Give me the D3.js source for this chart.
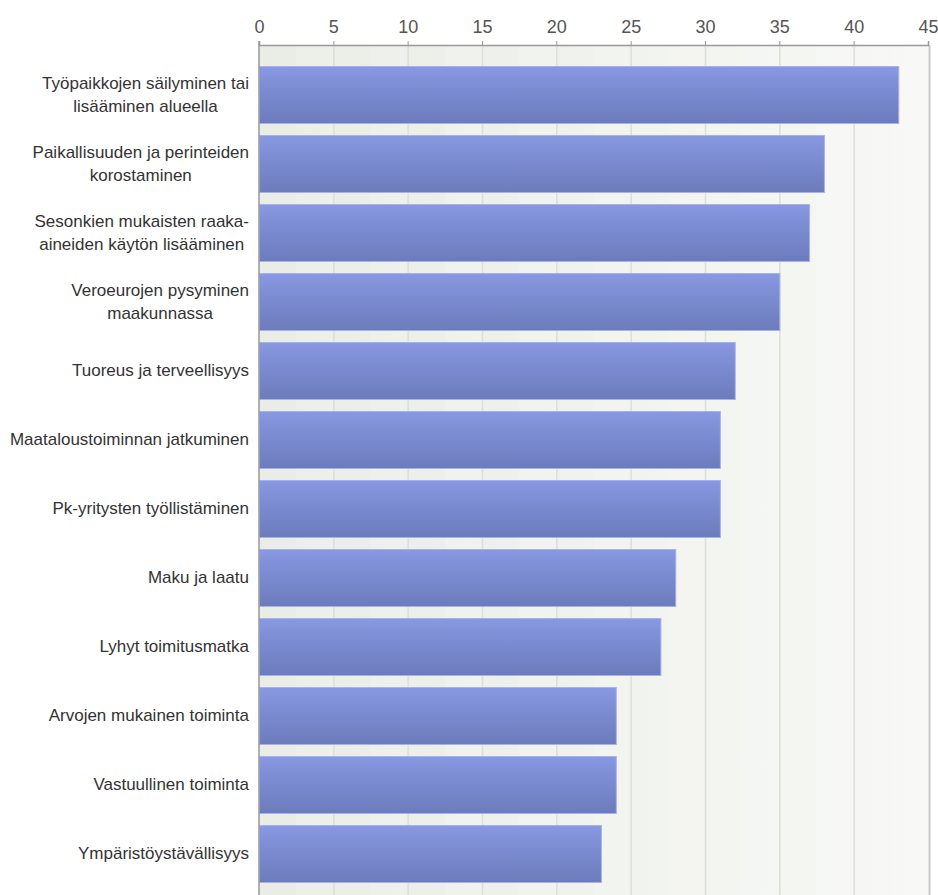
<!DOCTYPE html>
<html>
<head>
<meta charset="utf-8">
<script src="https://cdn.jsdelivr.net/npm/d3@7"></script>
<style>
  body { margin: 0; background: #fff; }
  svg { display: block; font-family: "Liberation Sans", Arial, sans-serif; }
</style>
</head>
<body>
<div id="chart"></div>
<script>
// Categories (each entry is the lines of the label) and values
const categories = [
    ["Työpaikkojen säilyminen tai", "lisääminen alueella"],
    ["Paikallisuuden ja perinteiden", "korostaminen"],
    ["Sesonkien mukaisten raaka-", "aineiden käytön lisääminen"],
    ["Veroeurojen pysyminen", "maakunnassa"],
    ["Tuoreus ja terveellisyys"],
    ["Maataloustoiminnan jatkuminen"],
    ["Pk-yritysten työllistäminen"],
    ["Maku ja laatu"],
    ["Lyhyt toimitusmatka"],
    ["Arvojen mukainen toiminta"],
    ["Vastuullinen toiminta"],
    ["Ympäristöystävällisyys"]
];
const values = [43, 38, 37, 35, 32, 31, 31, 28, 27, 24, 24, 23];
const tickValues = [0, 5, 10, 15, 20, 25, 30, 35, 40, 45];

const width = 938;
const height = 895;
const plot = { left: 259, right: 928, top: 45, bottom: 900 };

const svg = d3.select("#chart")
    .append("svg")
    .attr("width", width)
    .attr("height", height);

const defs = svg.append("defs");

// background gradient of the plot area
const bg = defs.append("linearGradient").attr("id", "bg")
    .attr("x1", "0").attr("x2", "1").attr("y1", "0").attr("y2", "0");
bg.append("stop").attr("offset", "0%").attr("stop-color", "#e9ede5");
bg.append("stop").attr("offset", "100%").attr("stop-color", "#f7f8f5");

// bar gradient
const bar = defs.append("linearGradient").attr("id", "bar")
    .attr("x1", "0").attr("x2", "0").attr("y1", "0").attr("y2", "1");
bar.append("stop").attr("offset", "0%").attr("stop-color", "#8898e2");
bar.append("stop").attr("offset", "100%").attr("stop-color", "#6b7bbb");

const x = d3.scaleLinear()
    .domain([0, 45])
    .range([plot.left, plot.right]);

const y = d3.scaleBand()
    .domain(d3.range(categories.length))
    .range([60, 888])
    .paddingInner(12 / 69)
    .paddingOuter(6 / 69);

// plot background
svg.append("rect")
    .attr("x", plot.left)
    .attr("y", plot.top)
    .attr("width", plot.right - plot.left)
    .attr("height", plot.bottom - plot.top)
    .attr("fill", "url(#bg)");

// faint minor bands
svg.append("g")
    .selectAll("rect")
    .data(d3.range(0, 45, 5))
    .join("rect")
    .attr("x", d => x(d + 2.5))
    .attr("y", plot.top)
    .attr("width", d => x(d + 5) - x(d + 2.5))
    .attr("height", plot.bottom - plot.top)
    .attr("fill", "#ffffff")
    .attr("opacity", 0.15);

// grid lines
svg.append("g")
    .selectAll("line")
    .data(tickValues.slice(1, -1))
    .join("line")
    .attr("x1", d => x(d) + 0.5)
    .attr("x2", d => x(d) + 0.5)
    .attr("y1", plot.top)
    .attr("y2", plot.bottom)
    .attr("stroke", "#dcdfd8")
    .attr("stroke-width", 1.5);

// right border
svg.append("line")
    .attr("x1", 929.5).attr("x2", 929.5)
    .attr("y1", plot.top).attr("y2", plot.bottom)
    .attr("stroke", "#c8c8c8")
    .attr("stroke-width", 2);

// bars
svg.append("g")
    .selectAll("rect")
    .data(values)
    .join("rect")
    .attr("x", x(0) + 0.5)
    .attr("y", (d, i) => y(i) + 0.5)
    .attr("width", d => x(d) - x(0))
    .attr("height", y.bandwidth())
    .attr("fill", "url(#bar)")
    .attr("stroke", "#a7b1ee")
    .attr("stroke-width", 1);

// top axis
const xAxis = d3.axisTop(x)
    .tickValues(tickValues)
    .tickSize(4)
    .tickPadding(8);

const gx = svg.append("g")
    .attr("transform", `translate(0, ${plot.top})`)
    .call(xAxis);
gx.select(".domain").attr("stroke", "#999").attr("stroke-width", 1.5);
gx.selectAll(".tick line").attr("stroke", "#999");
gx.selectAll(".tick text")
    .attr("fill", "#555")
    .style("font-size", "18px")
    .style("font-family", "'Liberation Sans', Arial, sans-serif");

// left axis line
svg.append("line")
    .attr("x1", plot.left).attr("x2", plot.left)
    .attr("y1", plot.top - 4).attr("y2", plot.bottom)
    .attr("stroke", "#999")
    .attr("stroke-width", 1.5);

// category labels: block right aligned, lines centred in block
const labelRight = 249;
const lineH = 23;
const labels = svg.append("g")
    .selectAll("g")
    .data(categories)
    .join("g");

labels.each(function(lines, i) {
    const g = d3.select(this);
    const cy = y(i) + y.bandwidth() / 2;
    const texts = g.selectAll("text")
        .data(lines)
        .join("text")
        .attr("y", (d, j) => cy + (j - (lines.length - 1) / 2) * lineH)
        .attr("dy", "0.35em")
        .attr("text-anchor", "middle")
        .attr("fill", "#333")
        .style("font-size", "17px")
        .text(d => d);
    let maxW = 0;
    texts.each(function() { maxW = Math.max(maxW, this.getComputedTextLength()); });
    texts.attr("x", labelRight - maxW / 2);
});
</script>
</body>
</html>
